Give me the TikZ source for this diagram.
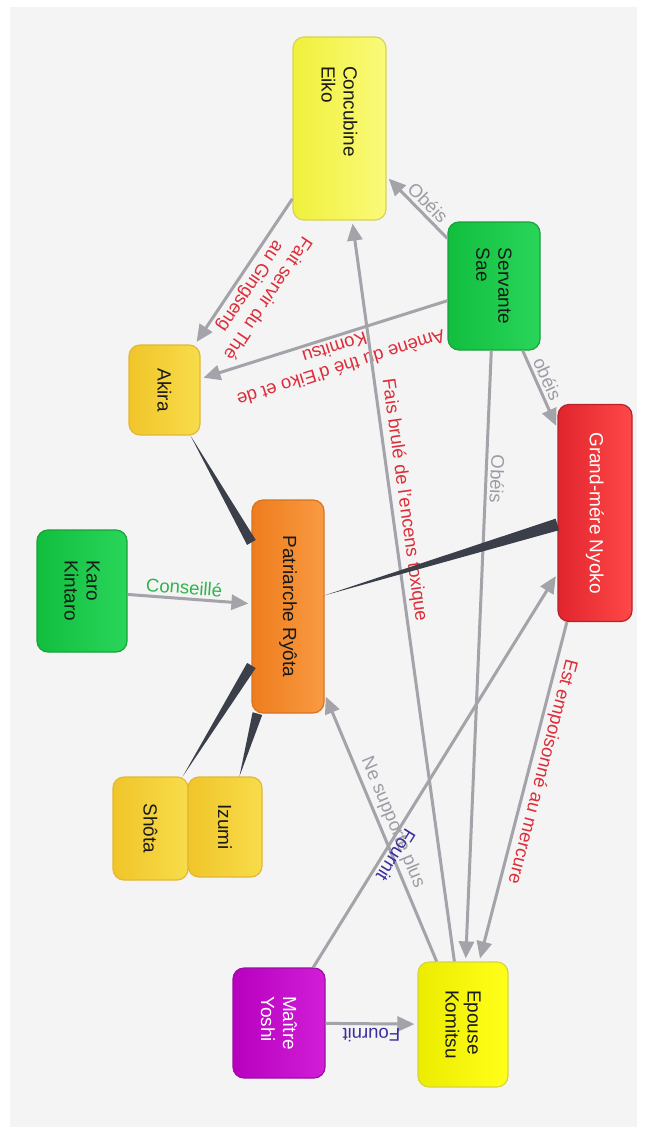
\documentclass[tikz,border=0pt]{standalone}
\usepackage{fontspec}
\setmainfont{Liberation Sans}
\usepackage{tikz}
\usetikzlibrary{arrows.meta,calc}

\definecolor{bgcol}{HTML}{F4F4F4}
\definecolor{linkgray}{HTML}{A3A3A9}
\definecolor{famdark}{HTML}{3B3F4A}
\definecolor{lblred}{HTML}{DC2E3A}
\definecolor{lblgray}{HTML}{9C9CA4}
\definecolor{lblgreen}{HTML}{2DB54C}
\definecolor{lblnavy}{HTML}{3A2E9C}
% box fills (left, right, border)
\definecolor{eikoL}{HTML}{F0F03C}\definecolor{eikoR}{HTML}{FAFA7A}\definecolor{eikoB}{HTML}{D4D45A}
\definecolor{komL}{HTML}{ECEC00}\definecolor{komR}{HTML}{FFFF1A}\definecolor{komB}{HTML}{D6D63A}
\definecolor{goldL}{HTML}{F0C52A}\definecolor{goldR}{HTML}{F8DC4A}\definecolor{goldB}{HTML}{E2B836}
\definecolor{grnL}{HTML}{12BE3E}\definecolor{grnR}{HTML}{2AD65A}\definecolor{grnB}{HTML}{18A23A}
\definecolor{redL}{HTML}{E0252D}\definecolor{redR}{HTML}{FF4848}\definecolor{redB}{HTML}{B52228}
\definecolor{orgL}{HTML}{EE7D1E}\definecolor{orgR}{HTML}{F99A42}\definecolor{orgB}{HTML}{D8741E}
\definecolor{purL}{HTML}{B600BE}\definecolor{purR}{HTML}{D21ED8}\definecolor{purB}{HTML}{9A0FA2}

% thin end at #1, wide end at #2
\newcommand{\taperlink}[3]{%
  \path (#1) -- (#2) coordinate[pos=0] (#1-#2-s) coordinate[pos=1] (#1-#2-e);
  \fill[famdark] (#1-#2-s) -- ($(#1-#2-e)!#3!90:(#1-#2-s)$) -- ($(#1-#2-e)!#3!-90:(#1-#2-s)$) -- cycle;}

\begin{document}
\begin{tikzpicture}[x=1pt,y=-1pt,
  person/.style={rectangle, rounded corners=11pt, rotate=-90, line width=1.2pt,
    font=\fontsize{19}{22}\selectfont, align=left, text=black!90},
  yellowbox/.style={person, draw=eikoB, left color=eikoL, right color=eikoR},
  goldbox/.style={person, draw=goldB, left color=goldL, right color=goldR},
  greenbox/.style={person, draw=grnB, left color=grnL, right color=grnR},
  arr/.style={draw=linkgray, line width=3pt, -{Triangle[length=17pt,width=15pt]}, shorten >=3pt},
  lbl/.style={sloped, above, inner sep=3pt, font=\fontsize{18.5}{21}\selectfont, align=center},
  flip/.style={allow upside down}]
  \fill[white] (0,0) rectangle (647,1134);
  \fill[bgcol] (10,7) rectangle (637,1127);

  % people
  \node[yellowbox, minimum width=183, minimum height=93] (eiko) at (339.5,128.5) {Concubine\hspace*{34pt}\\Eiko};
  \node[greenbox, minimum width=128, minimum height=92] (sae) at (494,286) {Servante\\Sae};
  \node[goldbox, minimum width=90, minimum height=71] (akira) at (164.5,390) {Akira};
  \node[person, draw=redB, left color=redL, right color=redR, text=white,
    minimum width=217, minimum height=74] (nyoko) at (595,513) {Grand-mére Nyoko};
  \node[greenbox, minimum width=122, minimum height=90] (karo) at (82,591) {Karo\\Kintaro};
  \node[person, draw=orgB, left color=orgL, right color=orgR,
    minimum width=213, minimum height=72] (ryota) at (288,606.5) {Patriarche Ryôta};
  \node[goldbox, minimum width=103, minimum height=75] (shota) at (150.5,828.5) {Shôta};
  \node[goldbox, minimum width=100, minimum height=74] (izumi) at (225,827) {Izumi};
  \node[person, draw=purB, left color=purL, right color=purR, text=white,
    minimum width=110, minimum height=92] (yoshi) at (279,1023) {Maître\\Yoshi};
  \node[person, draw=komB, left color=komL, right color=komR,
    minimum width=125, minimum height=90] (komitsu) at (463,1024.5) {Epouse\\Komitsu};

  % relations
  \draw[arr] (sae) -- node[lbl, pos=0.45, text=lblgray] {Obéis} (eiko);
  \draw[arr] (eiko) -- node[lbl, flip, pos=0.55, text=lblred] {Fait servir du Thé\\au Gingseng} (akira);
  \draw[arr] (sae) -- node[lbl, flip, pos=0.47, text=lblred] {Amène du thé d'Eiko et de\\Komitsu} (akira);
  \draw[arr] (komitsu) -- node[lbl, pos=0.62, text=lblred] {Fais brulé de l'encens toxique} (eiko);
  \draw[arr] (sae) -- node[lbl, pos=0.42, text=lblgray] {obéis} (nyoko);
  \draw[arr] (sae) -- node[lbl, flip, pos=0.21, text=lblgray] {Obéis} (komitsu);
  \draw[arr] (nyoko) -- node[lbl, flip, pos=0.43, text=lblred] {Est empoisonné au mercure} (komitsu);
  \draw[arr] (komitsu) -- node[lbl, pos=0.5, text=lblgray] {Ne supporte plus} (ryota);
  \draw[arr] (yoshi) -- node[lbl, rotate=180, pos=0.3, text=lblnavy] {Fournit} (nyoko);
  \draw[arr] (yoshi) -- node[lbl, rotate=180, pos=0.5, text=lblnavy] {Fournit} (komitsu);
  \draw[arr] (karo) -- node[lbl, pos=0.45, text=lblgreen] {Conseillé} (ryota);

  % family ties
  \taperlink{akira}{ryota}{5pt}
  \taperlink{ryota}{nyoko}{6pt}
  \taperlink{shota}{ryota}{5pt}
  \taperlink{izumi}{ryota}{5pt}
\end{tikzpicture}
\end{document}
